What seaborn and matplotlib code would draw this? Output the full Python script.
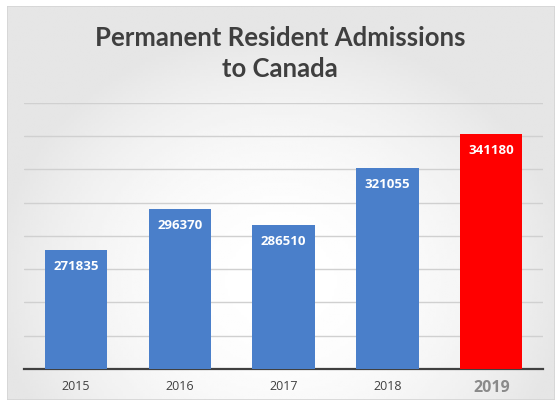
import matplotlib.pyplot as plt
import numpy as np
import pandas as pd
import seaborn as sns
from matplotlib.patches import Rectangle

years = ["2015", "2016", "2017", "2018", "2019"]
admissions = [271835, 296370, 286510, 321055, 341180]
bar_colors = ["#4a7fca", "#4a7fca", "#4a7fca", "#4a7fca", "#ff0000"]

sns.set_theme(style="white")
plt.rcParams["font.family"] = ["Open Sans", "DejaVu Sans"]

df = pd.DataFrame({"year": years, "admissions": admissions})

fig = plt.figure(figsize=(5.6, 4.08), dpi=100, facecolor="white")

# light gray panel with a soft gradient behind the chart
bg = fig.add_axes([0.0125, 0.02, 0.978, 0.965], zorder=0)
gx = np.linspace(-1, 1, 200)
gy = np.linspace(-1, 1, 150)
X, Y = np.meshgrid(gx, gy)
grad = 0.90 + 0.10 * np.clip(1 - (X**2 * 0.9 + (Y + 0.4) ** 2 * 0.6), 0, 1)
bg.imshow(grad, cmap="gray", vmin=0, vmax=1, aspect="auto",
          extent=[0, 1, 0, 1], origin="lower")
bg.add_patch(Rectangle((0, 0), 1, 1, transform=bg.transAxes, fill=False,
                       edgecolor="#d4d4d4", lw=1.2))
bg.set_axis_off()

ax = fig.add_axes([0.043, 0.0956, 0.927, 0.652], zorder=1)
ax.patch.set_alpha(0)

sns.barplot(data=df, x="year", y="admissions", hue="year",
            palette=bar_colors, legend=False, width=0.6, saturation=1,
            ax=ax, edgecolor="none", zorder=3)

ax.set_ylim(200000, 360000)
ax.set_xlim(-0.5, 4.5)
ax.set_yticks(range(200000, 360001, 20000))
ax.yaxis.grid(True, color="#d0d0d0", lw=1.0, zorder=0)
ax.set_yticklabels([])
ax.tick_params(axis="y", length=0)
ax.tick_params(axis="x", length=0, pad=8)
for side in ["top", "right", "left"]:
    ax.spines[side].set_visible(False)
ax.spines["bottom"].set_color("#404040")
ax.spines["bottom"].set_linewidth(1.6)
ax.set_xlabel("")
ax.set_ylabel("")

for i, v in enumerate(admissions):
    ax.text(i, v - 6000, str(v), ha="center", va="top", color="white",
            fontsize=9.5, fontweight="bold", zorder=4)

for lbl in ax.get_xticklabels():
    lbl.set_color("#404040")
    lbl.set_fontsize(9)
    if lbl.get_text() == "2019":
        lbl.set_fontsize(11.5)
        lbl.set_fontweight("bold")
        lbl.set_color("#8a8a8a")

fig.text(0.5, 0.868, "Permanent Resident Admissions\nto Canada", ha="center",
         va="center", fontsize=18.5, fontweight="bold", color="#3f3f3f",
         linespacing=1.35, family=["Lato", "DejaVu Sans"])

fig.savefig("out.png", dpi=100, facecolor="white")
